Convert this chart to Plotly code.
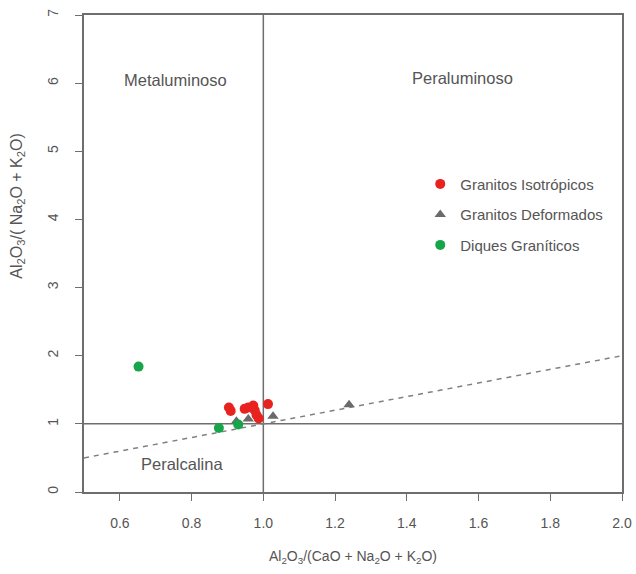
import plotly.graph_objects as go

# Sample compositions: A/CNK (x) vs A/NK (y)
iso_x = [0.904, 0.909, 0.948, 0.958, 0.972, 0.976, 0.981, 0.987, 1.013]
iso_y = [1.24, 1.19, 1.22, 1.24, 1.27, 1.20, 1.13, 1.08, 1.29]

def_x = [0.925, 0.958, 1.027, 1.239]
def_y = [1.04, 1.07, 1.11, 1.28]

diq_x = [0.652, 0.876, 0.930]
diq_y = [1.84, 0.94, 0.99]

# Field boundaries
div_x = [0.5, 2.0]
div_y = [0.5, 2.0]

fields = [("Metaluminoso", 0.756, 6.05), ("Peraluminoso", 1.554, 6.08), ("Peralcalina", 0.772, 0.41)]

x_ticks = [0.6, 0.8, 1.0, 1.2, 1.4, 1.6, 1.8, 2.0]
y_ticks = [0, 1, 2, 3, 4, 5, 6, 7]

x_title = "Al<sub>2</sub>O<sub>3</sub>/(CaO + Na<sub>2</sub>O + K<sub>2</sub>O)"
y_title = "Al<sub>2</sub>O<sub>3</sub>/( Na<sub>2</sub>O + K<sub>2</sub>O)"

GRAY = "#6e6e6e"
TXT = "#555555"
FONT = "Liberation Sans, Arial, sans-serif"

fig = go.Figure()

fig.add_trace(go.Scatter(x=div_x, y=div_y, mode="lines",
                         line=dict(color="#808080", width=1.5, dash="5px,5px"),
                         showlegend=False, hoverinfo="skip"))

fig.add_trace(go.Scatter(x=iso_x, y=iso_y, mode="markers", name="Granitos Isotrópicos",
                         legendgroup="a",
                         marker=dict(color="#e8231f", size=10, symbol="circle")))
fig.add_trace(go.Scatter(x=def_x, y=def_y, mode="markers", name="Granitos Deformados",
                         legendgroup="b",
                         marker=dict(color="#6a6a6a", size=10, symbol="triangle-up")))
fig.add_trace(go.Scatter(x=diq_x, y=diq_y, mode="markers", name="Diques Graníticos",
                         legendgroup="c",
                         marker=dict(color="#16a548", size=10, symbol="circle")))

fig.add_shape(type="line", xref="x", yref="y", x0=1.0, x1=1.0, y0=0, y1=7,
              line=dict(color=GRAY, width=1.5), layer="below")
fig.add_shape(type="line", xref="x", yref="y", x0=0.5, x1=2.0, y0=1.0, y1=1.0,
              line=dict(color=GRAY, width=1.5), layer="below")

for label, fx, fy in fields:
    fig.add_annotation(x=fx, y=fy, text=label, showarrow=False,
                       font=dict(family=FONT, size=16.5, color=TXT))

# vertical axis title, set slightly above the plot centre
fig.add_annotation(xref="paper", yref="paper", x=-0.123, y=0.6, xanchor="center", yanchor="middle",
                   text=y_title, textangle=-90, showarrow=False,
                   font=dict(family=FONT, size=16, color=TXT))

axis_common = dict(showline=True, linecolor=GRAY, linewidth=1.5, mirror=True,
                   ticks="outside", ticklen=7, tickcolor=GRAY, tickwidth=1.2,
                   showgrid=False, zeroline=False, automargin=False,
                   tickfont=dict(family=FONT, size=14, color=TXT))

fig.update_layout(
    width=636, height=574,
    margin=dict(l=84, r=14, t=15, b=82),
    paper_bgcolor="white", plot_bgcolor="white",
    font=dict(family=FONT, color=TXT),
    xaxis=dict(range=[0.5, 2.0], tickvals=x_ticks, ticktext=[f"{v:.1f}" for v in x_ticks],
               ticklabelstandoff=10,
               title=dict(text=x_title,
                          font=dict(family=FONT, size=14, color=TXT), standoff=22),
               **axis_common),
    yaxis=dict(range=[0, 7], tickvals=y_ticks, tickangle=-90,
               ticklabelstandoff=12,
               **axis_common),
    legend=dict(x=0.625, y=0.68, xanchor="left", yanchor="top",
                bgcolor="rgba(0,0,0,0)", tracegroupgap=8,
                font=dict(family=FONT, size=15, color=TXT)),
)

fig.write_html("out.html")
